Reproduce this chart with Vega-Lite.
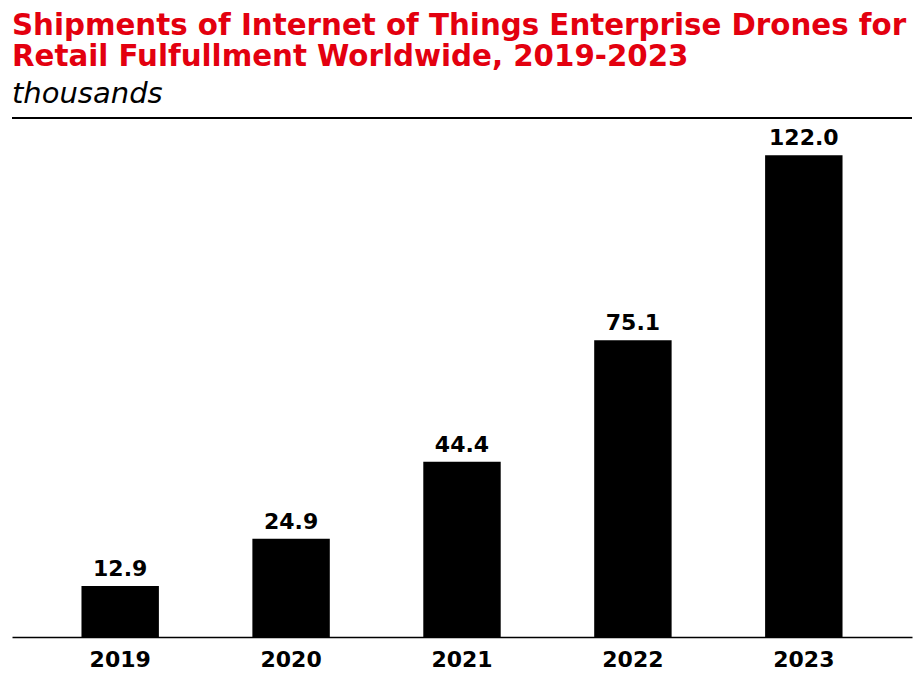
{
  "$schema": "https://vega.github.io/schema/vega-lite/v6.json",
  "width": 900,
  "height": 519,
  "autosize": {"type": "none"},
  "padding": {"left": 12, "top": 118, "right": 10, "bottom": 54},
  "background": "white",
  "title": {
    "text": ["Shipments of Internet of Things Enterprise Drones for", "Retail Fulfullment Worldwide, 2019-2023"],
    "subtitle": "thousands",
    "anchor": "start",
    "frame": "group",
    "offset": 8,
    "font": "DejaVu Sans",
    "fontSize": 29.3,
    "fontWeight": "bold",
    "color": "#e3000f",
    "lineHeight": 31,
    "subtitleFont": "DejaVu Sans",
    "subtitleFontSize": 29,
    "subtitleFontStyle": "italic",
    "subtitleFontWeight": "normal",
    "subtitleColor": "black",
    "subtitlePadding": 8
  },
  "config": {"view": {"stroke": null}},
  "data": {
    "values": [
      {"year": "2019", "shipments": 12.9},
      {"year": "2020", "shipments": 24.9},
      {"year": "2021", "shipments": 44.4},
      {"year": "2022", "shipments": 75.1},
      {"year": "2023", "shipments": 122.0}
    ]
  },
  "encoding": {
    "x": {
      "field": "year",
      "type": "ordinal",
      "scale": {"paddingInner": 0.547, "paddingOuter": 0.4065},
      "axis": {
        "title": null,
        "labelAngle": 0,
        "labelFont": "DejaVu Sans",
        "labelFontSize": 22,
        "labelFontWeight": "bold",
        "labelColor": "black",
        "labelPadding": 12,
        "ticks": false,
        "domainColor": "black",
        "domainWidth": 1.5
      }
    },
    "y": {
      "field": "shipments",
      "type": "quantitative",
      "scale": {"domain": [0, 131.4], "nice": false},
      "axis": null
    }
  },
  "layer": [
    {"mark": {"type": "bar", "color": "black"}},
    {
      "mark": {"type": "text", "baseline": "bottom", "dy": -5, "font": "DejaVu Sans", "fontSize": 22, "fontWeight": "bold", "color": "black"},
      "encoding": {"text": {"field": "shipments", "type": "quantitative", "format": ".1f"}}
    },
    {
      "mark": {"type": "rule", "color": "black", "strokeWidth": 2},
      "encoding": {"y": {"datum": 131.4}, "x": null}
    }
  ]
}
